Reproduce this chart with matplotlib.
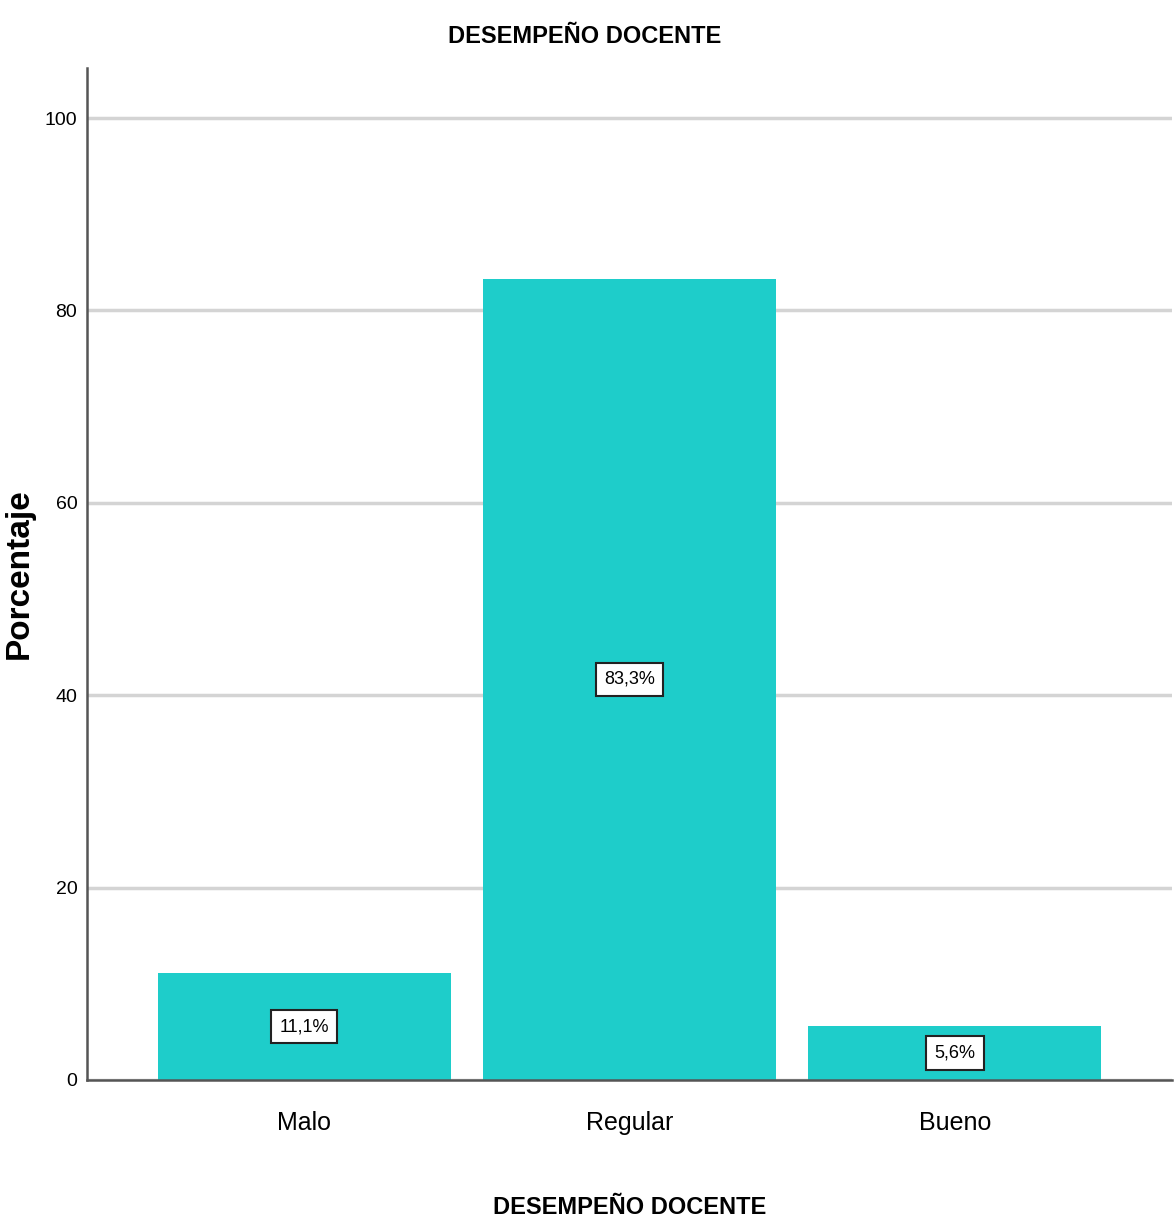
import matplotlib.pyplot as plt

categories = ["Malo", "Regular", "Bueno"]
percentages = [11.1, 83.3, 5.6]
value_labels = ["11,1%", "83,3%", "5,6%"]
y_ticks = [0, 20, 40, 60, 80, 100]

font = "Liberation Sans"
bar_color = "#1ecdca"

fig = plt.figure(figsize=(11.76, 12.25), dpi=100)
ax = fig.add_axes([0.074, 0.1184, 0.9226, 0.8261])

ax.bar(range(len(categories)), percentages, width=0.9, color=bar_color, zorder=2)

# value boxes at mid-height of each bar
for i, (v, lab) in enumerate(zip(percentages, value_labels)):
    ax.text(i, v / 2, lab, ha="center", va="center", fontsize=13, family=font,
            zorder=4, bbox=dict(boxstyle="square,pad=0.45", fc="white", ec="#222222", lw=1.5))

ax.set_xlim(-0.667, 2.667)
ax.set_ylim(0, 105.2)
ax.set_yticks(y_ticks)
ax.yaxis.grid(True, color="#d4d4d4", lw=2.5, zorder=0)
ax.set_axisbelow(True)
ax.tick_params(axis="y", length=0, pad=7, labelsize=14)
ax.tick_params(axis="x", length=0, pad=22, labelsize=18)
ax.set_xticks(range(len(categories)))
ax.set_xticklabels(categories)
for lbl in ax.get_xticklabels() + ax.get_yticklabels():
    lbl.set_family(font)

for s in ["top", "right"]:
    ax.spines[s].set_visible(False)
for s in ["left", "bottom"]:
    ax.spines[s].set_color("#555555")
    ax.spines[s].set_linewidth(1.8)
ax.spines["bottom"].set_zorder(3)

fig.text(0.497, 0.970, "DESEMPEÑO DOCENTE", ha="center", va="center",
         fontsize=17, fontweight="bold", family=font)
ax.set_xlabel("DESEMPEÑO DOCENTE", fontsize=17, fontweight="bold", family=font)
ax.xaxis.set_label_coords(0.5, -0.115)
ax.set_ylabel("Porcentaje", fontsize=24, fontweight="bold", family=font)
ax.yaxis.set_label_coords(-0.048, 0.5)

fig.savefig("out.png", dpi=100)
